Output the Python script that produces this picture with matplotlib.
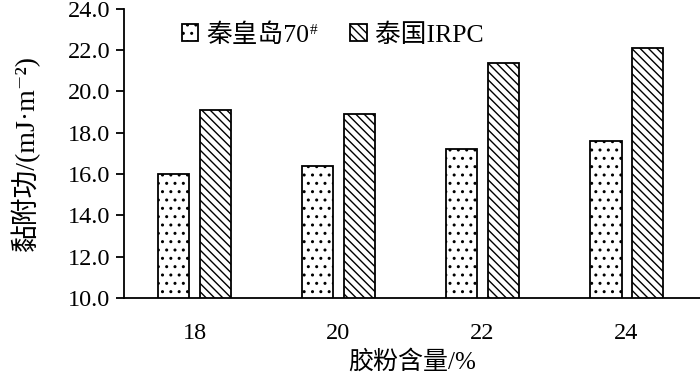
import numpy as np
import matplotlib
matplotlib.use('Agg')
import matplotlib.pyplot as plt

plt.rcParams['font.family'] = ['Liberation Serif', 'Noto Sans CJK SC', 'DejaVu Serif']
plt.rcParams['hatch.linewidth'] = 1.0

# data
contents = ['18', '20', '22', '24']
qhd70 = [16.0, 16.4, 17.2, 17.6]
irpc = [19.1, 18.9, 21.4, 22.1]
series_names = ['秦皇岛70', '泰国IRPC']

fig = plt.figure(figsize=(7, 3.85), dpi=100)
ax = fig.add_axes([0.177, 0.226, 0.823, 0.751])

x = np.arange(len(contents))
w = 0.22
ax.bar(x - 0.145, qhd70, w, color='white', edgecolor='black',
       linewidth=1.3, hatch='..', label=series_names[0])
ax.bar(x + 0.145, irpc, w, color='white', edgecolor='black',
       linewidth=1.3, hatch='\\\\\\\\', label=series_names[1])

ax.set_ylim(10, 24)
ax.set_xlim(-0.49, 3.51)
yt = np.arange(10, 24.1, 2)
ax.set_yticks(yt)
ax.set_yticklabels(['%.1f' % v for v in yt], fontsize=17.5)
ax.set_xticks(x)
ax.set_xticklabels(contents, fontsize=17.5)
ax.tick_params(axis='x', length=0, pad=18)
ax.tick_params(axis='y', direction='out', length=6, width=1.3, pad=4)
ax.spines['top'].set_visible(False)
ax.spines['right'].set_visible(False)
ax.spines['left'].set_linewidth(1.3)
ax.spines['bottom'].set_linewidth(1.3)

ax.set_xlabel('胶粉含量/%', fontsize=18, labelpad=4)
ax.set_ylabel('黏附功/(mJ·m⁻²)', fontsize=20, labelpad=20)

leg = ax.legend(loc='upper left', bbox_to_anchor=(0.06, 1.03), ncol=2, frameon=False,
                fontsize=18.5, handlelength=0.65, handleheight=0.65, handletextpad=0.3,
                columnspacing=1.6)

# superscript # after 70, placed once the legend has its final position
fig.canvas.draw()
bb = leg.get_texts()[0].get_window_extent()
fig.text((bb.x1 + 1) / fig.bbox.width, (bb.y1 - 1) / fig.bbox.height, '#',
         fontsize=11, va='top', ha='left')

fig.savefig('out.png', dpi=100)
